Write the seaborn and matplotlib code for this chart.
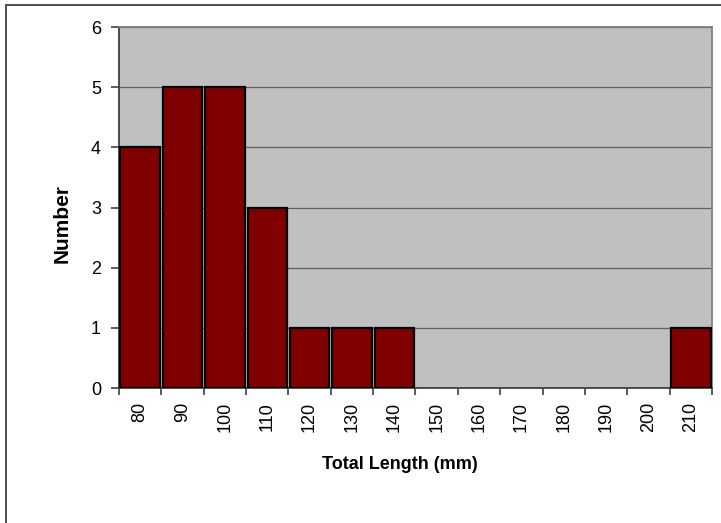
import matplotlib
matplotlib.use("Agg")
import matplotlib.pyplot as plt
import seaborn as sns
import pandas as pd
from matplotlib.patches import Rectangle

# Length classes (mm) and fish counts per class
lengths = ["80", "90", "100", "110", "120", "130", "140",
           "150", "160", "170", "180", "190", "200", "210"]
counts = [4, 5, 5, 3, 1, 1, 1, 0, 0, 0, 0, 0, 0, 1]
y_ticks = [0, 1, 2, 3, 4, 5, 6]

df = pd.DataFrame({"Total Length (mm)": lengths, "Number": counts})

sns.set_style("white")
plt.rcParams["font.family"] = ["Liberation Sans", "DejaVu Sans"]
plt.rcParams["text.color"] = "black"
plt.rcParams["axes.labelcolor"] = "black"
plt.rcParams["xtick.color"] = "black"
plt.rcParams["ytick.color"] = "black"

fig = plt.figure(figsize=(7.21, 5.23), dpi=100)
ax = fig.add_axes([0.165, 0.258, 0.8225, 0.69])

# Frame around the chart area (right/bottom edges fall outside the canvas)
fig.patches.append(Rectangle((6 / 721, -0.05), 1.2, 1 - 5 / 523 + 0.05,
                             transform=fig.transFigure, fill=False,
                             edgecolor="#404040", linewidth=1.3, zorder=0))

ax.set_facecolor("#C0C0C0")
sns.barplot(data=df, x="Total Length (mm)", y="Number", order=lengths,
            color="#800000", width=0.93, edgecolor="black", linewidth=1.6,
            saturation=1, ax=ax, zorder=3)

# Empty classes get no outline
for bar in ax.patches:
    if bar.get_height() == 0:
        bar.set_linewidth(0)

ax.set_ylim(0, 6)
ax.set_xlim(-0.5, len(lengths) - 0.5)
ax.set_yticks(y_ticks)
ax.yaxis.grid(True, color="#606060", linewidth=0.9, zorder=1)
ax.set_axisbelow(True)

# Category labels at bar centres, tick marks on the class boundaries
ax.set_xticks([i - 0.5 for i in range(len(lengths) + 1)])
ax.set_xticklabels([])
ax.set_xticks(range(len(lengths)), minor=True)
ax.set_xticklabels(lengths, minor=True, rotation=90, fontsize=13)
ax.tick_params(axis="x", which="minor", bottom=True, length=0, pad=10,
               labelcolor="black")
ax.tick_params(axis="x", which="major", bottom=True, length=5, width=1.2,
               color="#404040", direction="out")
ax.tick_params(axis="y", left=True, length=6, width=1.2, color="#404040",
               direction="out", labelsize=13, pad=7, labelcolor="black")

for side in ["left", "bottom"]:
    ax.spines[side].set_color("#404040")
    ax.spines[side].set_linewidth(1.3)
for side in ["top", "right"]:
    ax.spines[side].set_visible(True)
    ax.spines[side].set_color("#808080")
    ax.spines[side].set_linewidth(1.3)

ax.set_xlabel("Total Length (mm)", fontsize=13, fontweight="bold",
              color="black")
ax.set_ylabel("Number", fontsize=15, fontweight="bold", color="black")
ax.xaxis.set_label_coords(0.474, -0.188)
ax.yaxis.set_label_coords(-0.08, 0.455)

fig.savefig("out.png", dpi=100)
